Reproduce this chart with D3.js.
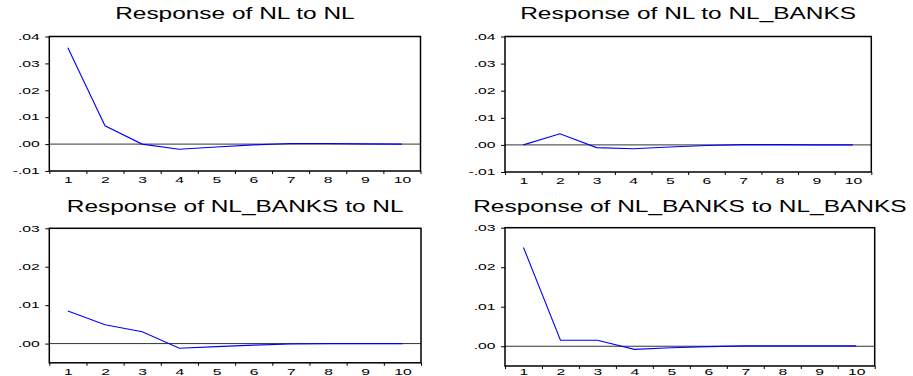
<!DOCTYPE html>
<html>
<head>
<meta charset="utf-8">
<script src="https://cdn.jsdelivr.net/npm/d3@7"></script>
<style>
  html, body { margin: 0; padding: 0; background: #fff; }
  svg { display: block; }
  text { font-family: "Liberation Sans", Arial, sans-serif; fill: #000; }
</style>
</head>
<body>
<svg id="chart" width="913" height="376"></svg>
<script>
// Impulse-response horizons
const periods = [1, 2, 3, 4, 5, 6, 7, 8, 9, 10];

// Responses (one per panel)
const nlToNl = [0.0358, 0.0068, 0.0000, -0.0019, -0.0011, -0.0003, 0.0002, 0.0002, 0.0001, 0.0000];
const nlToBanks = [0.0000, 0.0041, -0.0010, -0.0014, -0.0008, -0.0002, 0.0001, 0.0001, 0.0000, 0.0000];
const banksToNl = [0.0085, 0.0049, 0.0031, -0.0012, -0.0008, -0.0004, -0.0001, 0.0000, 0.0000, 0.0000];
const banksToBanks = [0.0250, 0.0015, 0.0015, -0.0008, -0.0004, -0.0001, 0.0001, 0.0001, 0.0001, 0.0001];

// Panel titles
const titles = [
  "Response of NL to NL",
  "Response of NL to NL_BANKS",
  "Response of NL_BANKS to NL",
  "Response of NL_BANKS to NL_BANKS"
];

// Y tick values
const topTicks = [-0.01, 0.00, 0.01, 0.02, 0.03, 0.04];
const bottomTicks = [0.00, 0.01, 0.02, 0.03];

const svg = d3.select("#chart");
const height = +svg.attr("height");

const titleScale = 1.5;   // wide-looking glyphs
const tickScale = 1.85;
const tickFont = 8.5;

const fmt = v => {
  const s = d3.format(".2f")(Math.abs(v)).replace(/^0/, "");
  return (v < 0 ? "-" : "") + s;
};

const panels = [
  { title: titles[0], values: nlToNl, box: [49.3, 420.5, 36.5, 171], domain: [-0.01, 0.04], ticks: topTicks, titleY: 19 },
  { title: titles[1], values: nlToBanks, box: [505, 871.3, 36.5, 172], domain: [-0.01, 0.04], ticks: topTicks, titleY: 19 },
  { title: titles[2], values: banksToNl, box: [49.3, 421, 228.3, 362.8], domain: [-0.005, 0.03], ticks: bottomTicks, titleY: 211.7 },
  { title: titles[3], values: banksToBanks, box: [505, 874.7, 227.7, 366], domain: [-0.005, 0.03], ticks: bottomTicks, titleY: 211.7 }
];

panels.forEach(p => {
  const [left, right, top, bottom] = p.box;
  const x = d3.scaleLinear().domain([0.5, periods.length + 0.5]).range([left, right]);
  const y = d3.scaleLinear().domain(p.domain).range([bottom, top]);
  const g = svg.append("g");

  // title
  g.append("text")
    .attr("transform", `translate(${(left + right) / 2},${p.titleY}) scale(${titleScale},1)`)
    .attr("text-anchor", "middle")
    .attr("font-size", "16.3px")
    .text(p.title);

  // zero reference line
  g.append("line")
    .attr("x1", left).attr("x2", right)
    .attr("y1", y(0)).attr("y2", y(0))
    .attr("stroke", "#333").attr("stroke-width", 1);

  // response line
  const line = d3.line().x((d, i) => x(periods[i])).y(d => y(d));
  g.append("path")
    .datum(p.values)
    .attr("d", line)
    .attr("fill", "none")
    .attr("stroke", "#0000ff")
    .attr("stroke-width", 1.1);

  // y axis
  const ya = g.append("g")
    .attr("transform", `translate(${left},0)`)
    .call(d3.axisLeft(y).tickValues(p.ticks).tickSize(4).tickPadding(5.5).tickFormat(fmt));
  ya.select(".domain").remove();
  ya.selectAll(".tick line").attr("stroke", "#000");
  ya.selectAll(".tick text")
    .attr("font-size", tickFont + "px")
    .attr("font-family", null)
    .attr("x", -9.5 / tickScale)
    .attr("transform", `scale(${tickScale},1)`);

  // x axis: boundary ticks
  const boundaries = d3.range(0.5, periods.length + 1, 1);
  const xb = g.append("g")
    .attr("transform", `translate(0,${bottom})`)
    .call(d3.axisBottom(x).tickValues(boundaries).tickSize(3).tickFormat(""));
  xb.select(".domain").remove();
  xb.selectAll(".tick line").attr("stroke", "#000");

  // x axis: period labels, kept inside the page bottom
  const pad = Math.min(6, height - 0.8 - bottom - 0.72 * tickFont);
  const xl = g.append("g")
    .attr("transform", `translate(0,${bottom})`)
    .call(d3.axisBottom(x).tickValues(periods).tickSize(0).tickPadding(pad));
  xl.select(".domain").remove();
  xl.selectAll(".tick text")
    .attr("font-size", tickFont + "px")
    .attr("font-family", null)
    .attr("transform", `scale(${tickScale},1)`);

  // frame
  g.append("rect")
    .attr("x", left).attr("y", top)
    .attr("width", right - left).attr("height", bottom - top)
    .attr("fill", "none")
    .attr("stroke", "#000")
    .attr("stroke-width", 1.5);
});
</script>
</body>
</html>
